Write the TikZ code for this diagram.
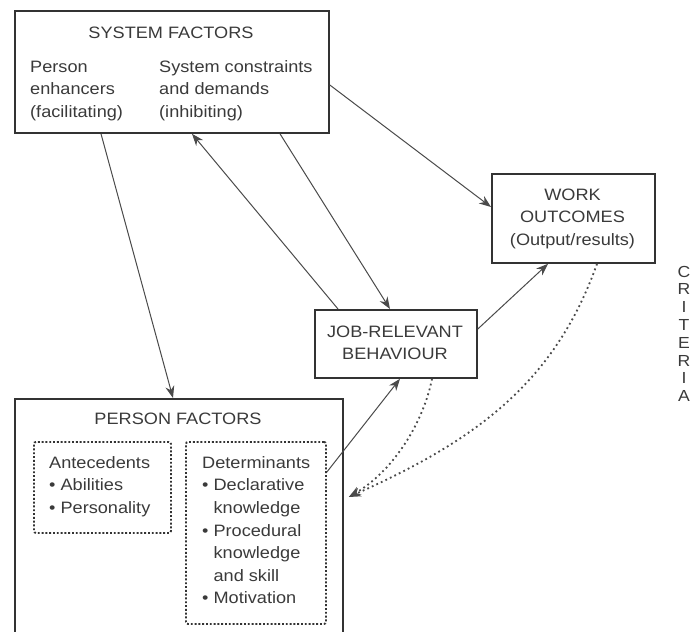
\documentclass[tikz,border=0pt]{standalone}
\usepackage{fontspec}
\setmainfont[FakeStretch=1.1]{Liberation Sans}
\usetikzlibrary{arrows.meta,calc}
\definecolor{boxc}{HTML}{333333}
\definecolor{txtc}{HTML}{3A3A3A}
\definecolor{linec}{HTML}{4A4A4A}

\begin{document}
\begin{tikzpicture}[x=1pt,y=-1pt,
  box/.style={draw=boxc, line width=1.8pt, inner sep=0pt, anchor=north west},
  dotbox/.style={draw=boxc, line width=1.9pt, dash pattern=on 1.9pt off 1.9pt,
                 rounded corners=2pt, inner sep=0pt, anchor=north west},
  txt/.style={inner sep=0pt, text=txtc, font=\fontsize{16.5}{22.6}\selectfont},
  crit/.style={inner sep=0pt, text=txtc, font=\fontsize{16}{17.8}\selectfont, align=center, anchor=north},
  link/.style={draw=linec, line width=1pt, -{Stealth[length=12pt,width=9pt]}},
  dotlink/.style={draw=linec, line width=1.8pt, dash pattern=on 1.8pt off 3.2pt,
                  -{Stealth[length=12pt,width=9pt]}}]

\useasboundingbox (0,0) rectangle (691,632);
\clip (0,0) rectangle (691,632);

% boxes
\node[box, minimum width=314pt, minimum height=122pt] (sf) at (14,10) {};
\node[box, minimum width=163pt, minimum height=89pt] (wo) at (491,173) {};
\node[box, minimum width=162pt, minimum height=68pt] (jrb) at (314,309) {};
\node[box, minimum width=328pt, minimum height=262pt] (pf) at (14,398) {};
\node[dotbox, minimum width=137pt, minimum height=91pt] (ante) at (33,441) {};
\node[dotbox, minimum width=140pt, minimum height=182pt] (det) at (185,441) {};

% texts
\node[txt, anchor=north] (sftitle) at (171,22.2) {\strut SYSTEM FACTORS};
\node[txt, anchor=north west, align=left] (enh) at (30,56.2)
  {\strut Person\\enhancers\\(facilitating)};
\node[txt, anchor=north west, align=left] (con) at (159,56.2)
  {\strut System constraints\\and demands\\(inhibiting)};
\node[txt, anchor=north, align=center] (wotxt) at (572.5,184.2)
  {\strut WORK\\OUTCOMES\\(Output/results)};
\node[txt, anchor=north, align=center] (jrbtxt) at (395,321.2)
  {\strut JOB-RELEVANT\\BEHAVIOUR};
\node[txt, anchor=north] (pftitle) at (178,408.2) {\strut PERSON FACTORS};
\node[txt, anchor=north west, align=left] (antetxt) at (49,452.2)
  {\strut Antecedents\\\textbullet\ Abilities\\\textbullet\ Personality};
\node[txt, anchor=north west, align=left] (dettxt) at (202,452.2)
  {\strut Determinants\\\textbullet\ Declarative\\\hphantom{\textbullet\ }knowledge\\
   \textbullet\ Procedural\\\hphantom{\textbullet\ }knowledge\\\hphantom{\textbullet\ }and skill\\
   \textbullet\ Motivation};
\node[crit] (criteria) at (684,264.5) {\strut C\\R\\I\\T\\E\\R\\I\\A};

% connectors
\draw[link] ($(sf.south west)+(87,0)$) -- ($(pf.north west)+(159,0)$);
\draw[link] ($(jrb.north west)+(24,0)$) -- ($(sf.south west)+(178,0)$);
\draw[link] ($(sf.south west)+(266,0)$) -- ($(jrb.north west)+(76,0)$);
\draw[link] ($(sf.north east)+(0,75)$) -- ($(wo.north west)+(0,34)$);
\draw[link] ($(jrb.north east)+(0,20)$) -- ($(wo.south west)+(57,0)$);
\draw[link] ($(det.north east)+(0,31)$) -- ($(jrb.south west)+(86,0)$);

% feedback loops
\draw[dotlink] ($(jrb.south west)+(118,0)$) .. controls (424,420) and (395,470) .. ($(pf.north east)+(5,99)$);
\draw[dotlink] ($(wo.south west)+(106,0)$) .. controls (555,382) and (477,440) .. ($(pf.north east)+(5,99)$);
\end{tikzpicture}
\end{document}
